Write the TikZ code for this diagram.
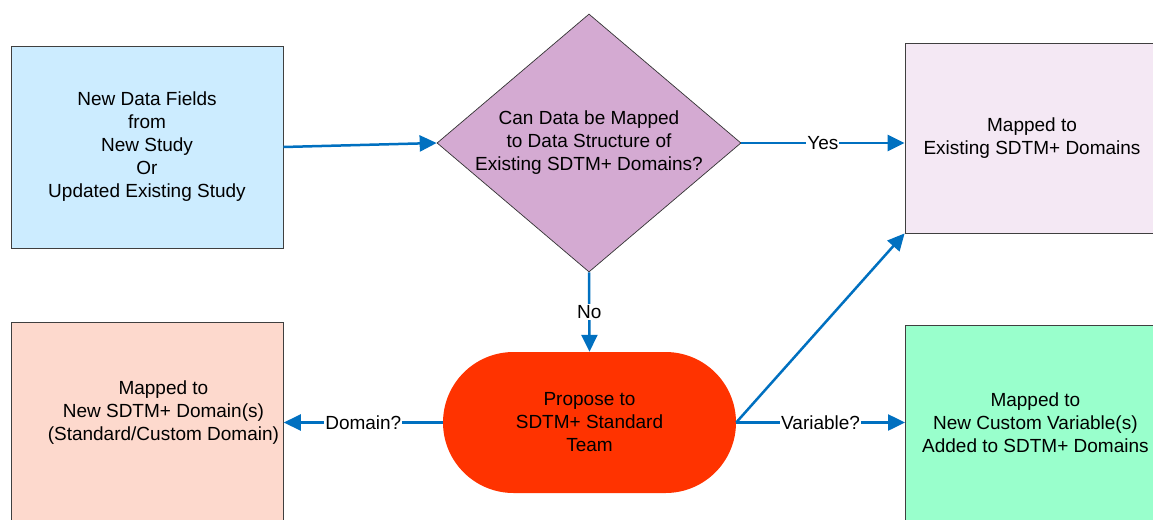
\documentclass[tikz,border=0pt]{standalone}
\usepackage{fontspec}
\setmainfont{Liberation Sans}
\usetikzlibrary{shapes.geometric,shapes.misc,arrows.meta}

\definecolor{srcblue}{HTML}{CCECFF}
\definecolor{diapurple}{HTML}{D4AAD2}
\definecolor{exlav}{HTML}{F4E8F4}
\definecolor{newpeach}{HTML}{FDD9CD}
\definecolor{propred}{HTML}{FF3300}
\definecolor{varmint}{HTML}{99FFCC}
\definecolor{flowblue}{HTML}{0070C0}
\definecolor{boxline}{HTML}{3F3F3F}

\newcommand\flowfont{\fontsize{19}{23}\selectfont}

\tikzset{
  box/.style={draw=boxline, line width=0.8pt, rectangle, inner sep=0pt,
    align=center, font=\flowfont},
  boxtext/.style={align=center, font=\flowfont, inner sep=0pt},
  decision/.style={draw=black!80, line width=0.7pt, diamond, inner sep=0pt,
    shape aspect=1.178, minimum width=304pt, minimum height=258pt,
    align=center, font=\flowfont},
  terminal/.style={rounded rectangle, fill=propred, inner sep=0pt,
    minimum width=293pt, minimum height=141pt, align=center, font=\flowfont},
  flow/.style={line width=2.5pt, draw=flowblue,
    -{Triangle[length=17pt,width=16pt]}},
  flowlabel/.style={midway, fill=white, inner sep=1pt, font=\flowfont}
}

\begin{document}
\begin{tikzpicture}[x=1pt,y=-1pt]
  % page area
  \fill[white] (0,0) rectangle (1153,519);
  \useasboundingbox (0,0) rectangle (1153,519);

  % source of the data
  \node[box, fill=srcblue, minimum width=272pt, minimum height=202pt] (src) at (147,147)
    {New Data Fields\\from\\New Study\\Or\\Updated Existing Study};

  % decision
  \node[decision, fill=diapurple] (dia) at (589,143)
    {Can Data be Mapped\\to Data Structure of\\Existing SDTM+ Domains?};

  % existing domains
  \node[box, fill=exlav, minimum width=254pt, minimum height=190pt] (exist) at (1032,138)
    {Mapped to\\Existing SDTM+ Domains};

  % proposal to the standards team
  \node[terminal] (prop) at (589.5,422.5)
    {Propose to\\SDTM+ Standard\\Team};

  % new domain(s)
  \node[box, fill=newpeach, minimum width=272pt, minimum height=220pt, anchor=north west,
    label={[boxtext, xshift=16pt, yshift=20pt]center:{Mapped to\\New SDTM+ Domain(s)\\(Standard/Custom Domain)}}]
    (newdom) at (11,322) {};

  % new custom variable(s)
  \node[box, fill=varmint, minimum width=260pt, minimum height=220pt, anchor=north west,
    label={[boxtext, yshift=13pt]center:{Mapped to\\New Custom Variable(s)\\Added to SDTM+ Domains}}]
    (newvar) at (905,325) {};

  % connectors
  \draw[flow] (src.east) -- (dia.west);
  \draw[flow] (dia.east) -- (exist.west |- dia.east) node[flowlabel] {Yes};
  \draw[flow] (dia.south) -- (prop.north) node[flowlabel] {No};
  \draw[flow] (prop.west) -- (newdom.east |- prop.west) node[flowlabel] {Domain?};
  \draw[flow] (prop.east) -- (newvar.west |- prop.east) node[flowlabel] {Variable?};
  \draw[flow] (prop.east) -- (exist.south west);
\end{tikzpicture}
\end{document}
